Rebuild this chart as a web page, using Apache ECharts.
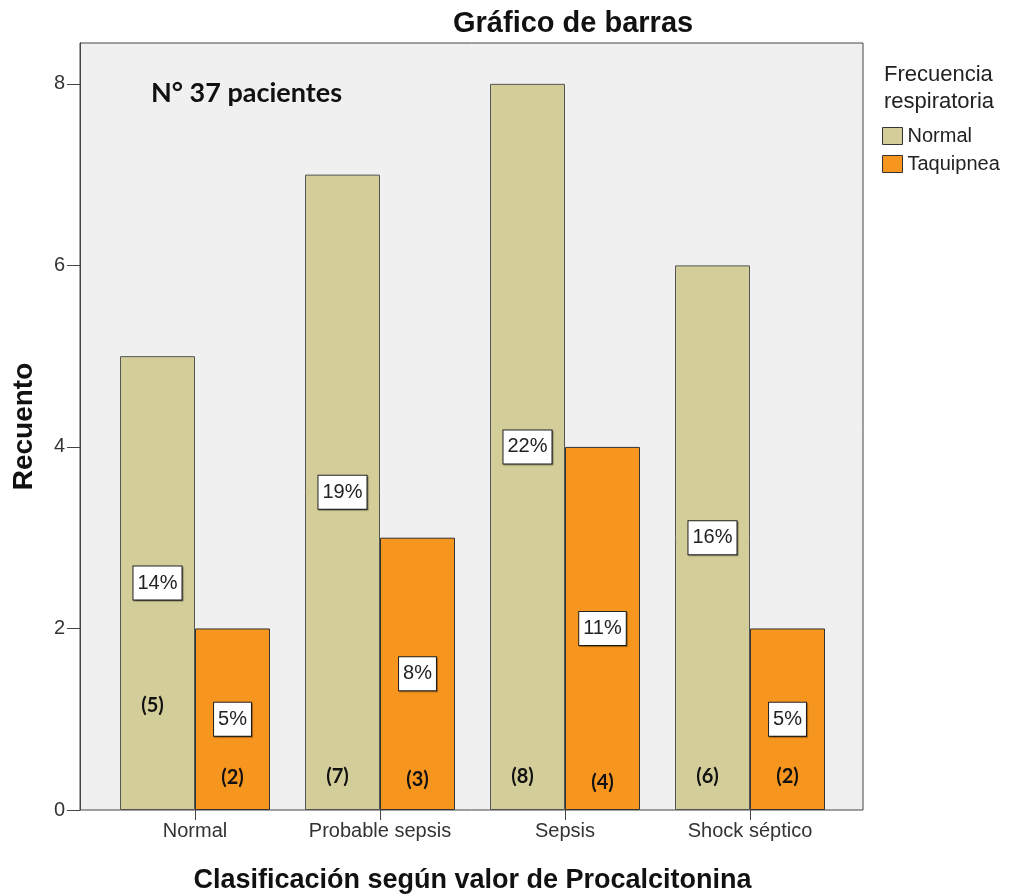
<!DOCTYPE html>
<html><head><meta charset="utf-8">
<script src="https://cdn.jsdelivr.net/npm/echarts@6/dist/echarts.min.js"></script>
<style>html,body{margin:0;padding:0;background:#fff}#c{width:1010px;height:896px}</style>
</head><body><div id="c"></div>
<script>
const categories = ['Normal', 'Probable sepsis', 'Sepsis', 'Shock séptico'];
const seriesNames = ['Normal', 'Taquipnea'];
const normalCounts = [5, 7, 8, 6];
const taquipneaCounts = [2, 3, 4, 2];
const normalPct = ['14%', '19%', '22%', '16%'];
const taquipneaPct = ['5%', '8%', '11%', '5%'];
const yTicks = [0, 2, 4, 6, 8];

const chart = echarts.init(document.getElementById('c'));
const F = 'Liberation Sans, Arial, sans-serif';
const YMAX = 8.45;

// placement (data units) of the "(n)" count annotations
const normalCountY = [1.15, 0.37, 0.37, 0.37];
const taqCountY = [0.36, 0.33, 0.30, 0.37];

function countMarks(counts, ys) {
  return counts.map((v, i) => ({ coord: [i, ys[i]], value: v }));
}

const pctLabel = (arr) => ({
  show: true, position: 'inside',
  formatter: p => arr[p.dataIndex],
  backgroundColor: '#fff', borderColor: '#222', borderWidth: 1,
  padding: [6, 4, 5, 4], fontSize: 20, lineHeight: 22, color: '#222', fontFamily: F,
  shadowColor: 'rgba(0,0,0,0.35)', shadowOffsetX: 1, shadowOffsetY: 1, shadowBlur: 1
});

const countMarkPoint = (counts, ys, dx) => ({
  symbol: 'circle', symbolSize: 0,
  label: {
    show: true, position: 'inside', offset: [dx, 0],
    formatter: p => '(' + p.value + ')',
    fontFamily: 'Lato, sans-serif', fontWeight: 'bold', fontSize: 20, color: '#111'
  },
  data: countMarks(counts, ys)
});

chart.setOption({
  animation: false,
  backgroundColor: '#fff',
  title: [
    { text: 'Gráfico de barras', left: 448, top: 4,
      textStyle: { fontFamily: F, fontWeight: 'bold', fontSize: 29, color: '#111' } },
    { text: 'N° 37 pacientes', left: 146, top: 75,
      textStyle: { fontFamily: 'Lato, sans-serif', fontWeight: 'bold', fontSize: 27, color: '#111' } },
    { text: 'Frecuencia\nrespiratoria', left: 879, top: 56,
      textStyle: { fontFamily: F, fontWeight: 'normal', fontSize: 22, lineHeight: 27, color: '#222' } }
  ],
  legend: {
    orient: 'vertical', left: 877, top: 121,
    itemWidth: 20, itemHeight: 17, itemGap: 8,
    icon: 'rect',
    itemStyle: { borderColor: '#333', borderWidth: 1 },
    textStyle: { fontFamily: F, fontSize: 20, color: '#222' },
    data: seriesNames
  },
  grid: [
    { left: 80, right: 147, top: 43, bottom: 86, show: true, outerBoundsMode: 'none', containLabel: false,
      backgroundColor: '#f0f0f0', borderColor: '#444', borderWidth: 1 },
    { left: 102.5, right: 167.5, top: 43, bottom: 86, outerBoundsMode: 'none', containLabel: false }
  ],
  xAxis: [
    { gridIndex: 0, type: 'value', show: false, min: 0, max: 1 },
    { gridIndex: 1, type: 'category', data: categories,
      axisLine: { show: false },
      axisTick: { show: true, alignWithLabel: true, length: 10, lineStyle: { color: '#444' } },
      axisLabel: { fontFamily: F, fontSize: 20, color: '#333', margin: 11 },
      name: 'Clasificación según valor de Procalcitonina', nameLocation: 'middle', nameGap: 57,
      nameTextStyle: { fontFamily: F, fontWeight: 'bold', fontSize: 27, color: '#111' } }
  ],
  yAxis: [
    { gridIndex: 0, type: 'value', min: 0, max: YMAX,
      axisLine: { show: true, lineStyle: { color: '#444' } },
      axisTick: { show: true, length: 13, customValues: yTicks, lineStyle: { color: '#444' } },
      axisLabel: { fontFamily: F, fontSize: 20, color: '#333', margin: 15, customValues: yTicks },
      splitLine: { show: false },
      name: 'Recuento', nameLocation: 'middle', nameGap: 42, nameRotate: 90,
      nameTextStyle: { fontFamily: F, fontWeight: 'bold', fontSize: 28, color: '#111' } },
    { gridIndex: 1, type: 'value', min: 0, max: YMAX, show: false, splitLine: { show: false } }
  ],
  series: [
    { name: seriesNames[0], type: 'bar', xAxisIndex: 1, yAxisIndex: 1,
      data: normalCounts, barWidth: 75, barGap: '0%',
      itemStyle: { color: '#d3ce99', borderColor: '#555', borderWidth: 1 },
      label: pctLabel(normalPct),
      markPoint: countMarkPoint(normalCounts, normalCountY, -5) },
    { name: seriesNames[1], type: 'bar', xAxisIndex: 1, yAxisIndex: 1,
      data: taquipneaCounts, barWidth: 75,
      itemStyle: { color: '#f7961f', borderColor: '#333', borderWidth: 1 },
      label: pctLabel(taquipneaPct),
      markPoint: countMarkPoint(taquipneaCounts, taqCountY, 0) }
  ]
});
</script></body></html>
